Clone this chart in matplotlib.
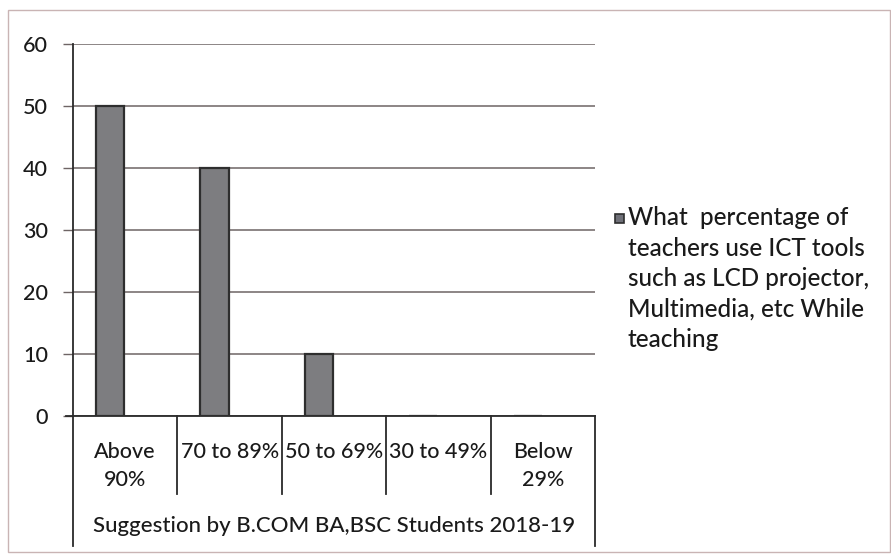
import matplotlib
matplotlib.use("Agg")
import matplotlib.pyplot as plt
from matplotlib.patches import Rectangle
from matplotlib.lines import Line2D

categories = ["Above\n90%", "70 to 89%", "50 to 69%", "30 to 49%", "Below\n29%"]
values = [50, 40, 10, 0, 0]
yticks = [0, 10, 20, 30, 40, 50, 60]
outer_label = "Suggestion by B.COM BA,BSC Students 2018-19"
legend_label = "What  percentage of\nteachers use ICT tools\nsuch as LCD projector,\nMultimedia, etc While\nteaching"

plt.rcParams['font.family'] = ['Lato', 'DejaVu Sans']
plt.rcParams['font.weight'] = 'medium'

W, H = 891, 554
fig = plt.figure(figsize=(W / 100, H / 100), dpi=100)
fig.patch.set_facecolor('white')

L, R, B, T = 73, 595, 416, 44
ax = fig.add_axes([L / W, (H - B) / H, (R - L) / W, (B - T) / H])

xs = list(range(len(categories)))
ax.bar([x - 0.144 for x in xs], values, width=0.27, color='#7d7d80',
       edgecolor='#2e2e2e', linewidth=1.6, zorder=3)

ax.set_xlim(-0.5, len(categories) - 0.5)
ax.set_ylim(0, 60)
ax.set_yticks(yticks)
ax.set_yticklabels([str(v) for v in yticks], fontsize=15.5, color='#1a1a1a')
ax.tick_params(axis='y', length=7, width=1, color='#6e6464', pad=11)
ax.set_xticks([])
ax.yaxis.grid(True, color='#6e6464', linewidth=1.1, zorder=0)
ax.set_axisbelow(True)
for s in ['top', 'right']:
    ax.spines[s].set_visible(False)
ax.spines['left'].set_color('#2a2a2a')
ax.spines['left'].set_linewidth(1.3)
ax.spines['bottom'].set_color('#2a2a2a')
ax.spines['bottom'].set_linewidth(1.3)

ph = B - T  # axes height in px
def fy(ypix):
    return (B - ypix) / ph

tr = ax.get_xaxis_transform()
# category separators
for i in range(1, len(categories)):
    ax.add_line(Line2D([i - 0.5, i - 0.5], [0, fy(494)], transform=tr,
                       color='#2a2a2a', linewidth=1.3, clip_on=False))
# outer verticals
for xb in [-0.5, len(categories) - 0.5]:
    ax.add_line(Line2D([xb, xb], [0, fy(546)], transform=tr,
                       color='#2a2a2a', linewidth=1.3, clip_on=False))
# bottom axis tick-like extension to the left
ax.add_line(Line2D([-0.5 - 7 / 104.4, -0.5], [0, 0], transform=tr,
                   color='#2a2a2a', linewidth=1.3, clip_on=False))

for x, lab in zip(xs, categories):
    ax.text(x, fy(442), lab, transform=tr, ha='center', va='top',
            fontsize=15.5, color='#1a1a1a', linespacing=1.52, clip_on=False)

ax.text((len(categories) - 1) / 2, fy(526), outer_label, transform=tr,
        ha='center', va='center', fontsize=16, color='#1a1a1a', clip_on=False)

# legend (manual)
fig.patches.append(Rectangle((615 / W, (H - 223) / H), 9 / W, 9 / H,
                             transform=fig.transFigure, facecolor='#6f7078',
                             edgecolor='#2e2e2e', linewidth=1.2))
fig.text(628 / W, (H - 206) / H, legend_label, ha='left', va='top',
         fontsize=17.5, color='#1a1a1a', linespacing=1.4)

# chart border
fig.patches.append(Rectangle((8 / W, 2 / H), (W - 9) / W, (H - 12) / H,
                             transform=fig.transFigure, fill=False,
                             edgecolor='#c9b4b4', linewidth=1.0))

fig.savefig("out.png", dpi=100, facecolor='white')
